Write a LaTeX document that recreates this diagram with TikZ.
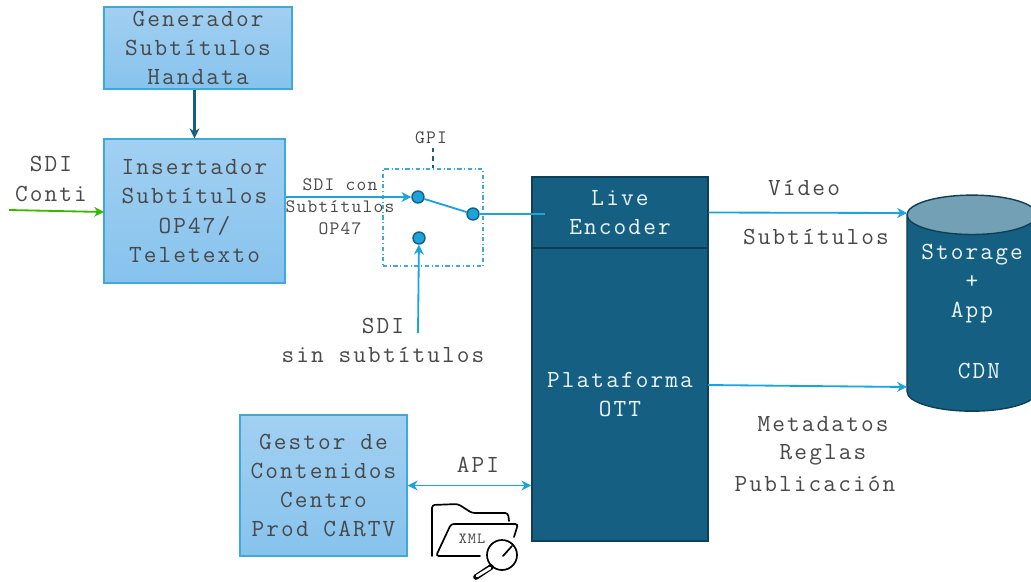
\documentclass[tikz,border=0pt]{standalone}
\usepackage{fontspec}
\newfontfamily\boxfont[LetterSpace=8.6]{Latin Modern Mono}
\newfontfamily\tagfont[LetterSpace=6.5]{Latin Modern Mono}
\usetikzlibrary{shapes.geometric,arrows.meta}
\definecolor{lightbox}{HTML}{8AC4EE}
\definecolor{lightedge}{HTML}{3FA9DC}
\definecolor{darkbox}{HTML}{156082}
\definecolor{darkedge}{HTML}{0E3F57}
\definecolor{linkblue}{HTML}{1BA3DC}
\definecolor{txtgrey}{HTML}{484848}
\tikzset{
  txtbig/.style={font=\boxfont\fontsize{17.5}{20.8}\selectfont, text=txtgrey, align=center, inner sep=0pt},
  txtsmall/.style={font=\tagfont\fontsize{13.5}{15.6}\selectfont, text=txtgrey, align=center, inner sep=0pt},
  lightnode/.style={draw=lightedge, line width=1pt, top color=lightbox!80!white, bottom color=lightbox!95!lightedge, txtbig},
  darknode/.style={draw=darkedge, line width=1pt, fill=darkbox, txtbig, text=white!85!lightbox},
  contact/.style={circle, draw=darkbox, line width=1pt, fill=linkblue, minimum size=0.3cm, inner sep=0pt},
  link/.style={color=linkblue, line width=1.3pt},
  linkto/.style={link, -{Stealth[length=7pt,width=7pt]}}
}
\begin{document}
\begin{tikzpicture}[x=0.025cm,y=-0.025cm]
  \useasboundingbox (0,0) rectangle (1031,581);

  % Boxes
  \node[lightnode, minimum width=4.7cm, minimum height=2.05cm] (gen) at (198,48) {Generador\\Subtítulos\\Handata};
  \node[lightnode, minimum width=4.525cm, minimum height=3.6cm] (ins) at (194.5,211) {Insertador\\Subtítulos\\OP47/\\Teletexto};
  \node[lightnode, minimum width=4.175cm, minimum height=3.525cm] (gestor) at (323.5,485.5) {Gestor de\\Contenidos\\Centro\\Prod CARTV};
  \node[darknode, minimum width=4.4cm, minimum height=1.775cm] (enc) at (620,212.5) {Live\\Encoder};
  \node[darknode, minimum width=4.4cm, minimum height=7.325cm] (ott) at (620,394.5) {Plataforma\\OTT};

  % Storage
  \node[cylinder, shape border rotate=90, draw=darkedge, line width=1pt, shape aspect=4.2, cylinder uses custom fill,
    cylinder body fill=darkbox, cylinder end fill=darkbox!60!white, minimum width=3.25cm, minimum height=5.4cm] (store) at (972,317) {};
  \node[txtbig, text=white!85!lightbox] (storetxt) at (972,283.5) {Storage\\+\\App};
  \node[txtbig, text=white!85!lightbox] (cdn) at (979,371) {CDN};

  % Switch
  \node[draw=lightedge, dash dot, line width=0.8pt, minimum width=2.5cm, minimum height=2.425cm] (sw) at (433,217.5) {};
  \node[contact] (c1) at (418,197) {};
  \node[contact] (c2) at (473,214) {};
  \node[contact] (c3) at (419,238) {};
  \node[txtsmall] (gpi) at (431,138) {GPI};
  \coordinate (gpiend) at (433,148);
  \draw[color=darkbox, dashed, line width=1pt] (gpiend) -- (sw.north);

  % Labels
  \node[txtbig] (conti) at (51,179) {SDI\\Conti};
  \node[txtsmall] (con) at (340,207) {SDI con\\Subtítulos\\OP47};
  \node[txtbig] (sinsub) at (383,340.5) {SDI\\sin subtítulos};
  \node[txtbig] (video) at (804,188) {Vídeo};
  \node[txtbig] (subs) at (816,237) {Subtítulos};
  \node[txtbig] (meta) at (823,424) {Metadatos};
  \node[txtbig] (reglas) at (823,455) {Reglas};
  \node[txtbig] (pub) at (815,484) {Publicación};
  \node[txtbig] (api) at (478,465) {API};

  % Links
  \coordinate (contiin) at (9,210);
  \coordinate (contiout) at (104,212);
  \draw[color=green!60!black!70!lime, line width=1.3pt, -{Stealth[length=7pt,width=7pt]}] (contiin) -- (contiout);
  \draw[color=darkbox, line width=1.5pt, -{Stealth[length=7pt,width=7pt]}] (ins.north |- gen.south) -- (ins.north);
  \draw[linkto] (ins.east |- c1) -- (c1);
  \draw[link] (c1) -- (c2);
  \coordinate (encin) at (545,214);
  \draw[link] (c2) -- (encin);
  \coordinate (sinin) at (418,333);
  \draw[linkto] (sinin) -- (c3);
  \coordinate (vidend) at (907,213);
  \draw[linkto] (enc.east) -- (vidend);
  \coordinate (ottout) at (708,385);
  \coordinate (ottend) at (907,387);
  \draw[linkto] (ottout) -- (ottend);
  \draw[link, {Stealth[length=7pt,width=7pt]}-{Stealth[length=7pt,width=7pt]}] (gestor.east) -- (gestor.east -| ott.west);

  % XML folder
  \draw[line width=1.2pt, rounded corners=2pt, line cap=round] (432,556) -- (432,505) -- (458,504) -- (472,513) -- (508,513) -- (509,521);
  \draw[line width=1.2pt, rounded corners=2pt, line cap=round] (480,556) -- (436,556) -- (451,524) -- (518,524) -- (514,537);
  \draw[line width=1.2pt, line cap=round] (503,556) -- (512,546);
  \draw[line width=1.2pt] (502,555) circle (15);
  \draw[line width=4pt, line cap=round] (491,567) -- (476,577);
  \draw[line width=2pt, color=white, line cap=round] (490,568) -- (477,576);
  \node[font=\tagfont\fontsize{11}{12}\selectfont, text=txtgrey, inner sep=0pt] (xml) at (472,539) {XML};
\end{tikzpicture}
\end{document}
